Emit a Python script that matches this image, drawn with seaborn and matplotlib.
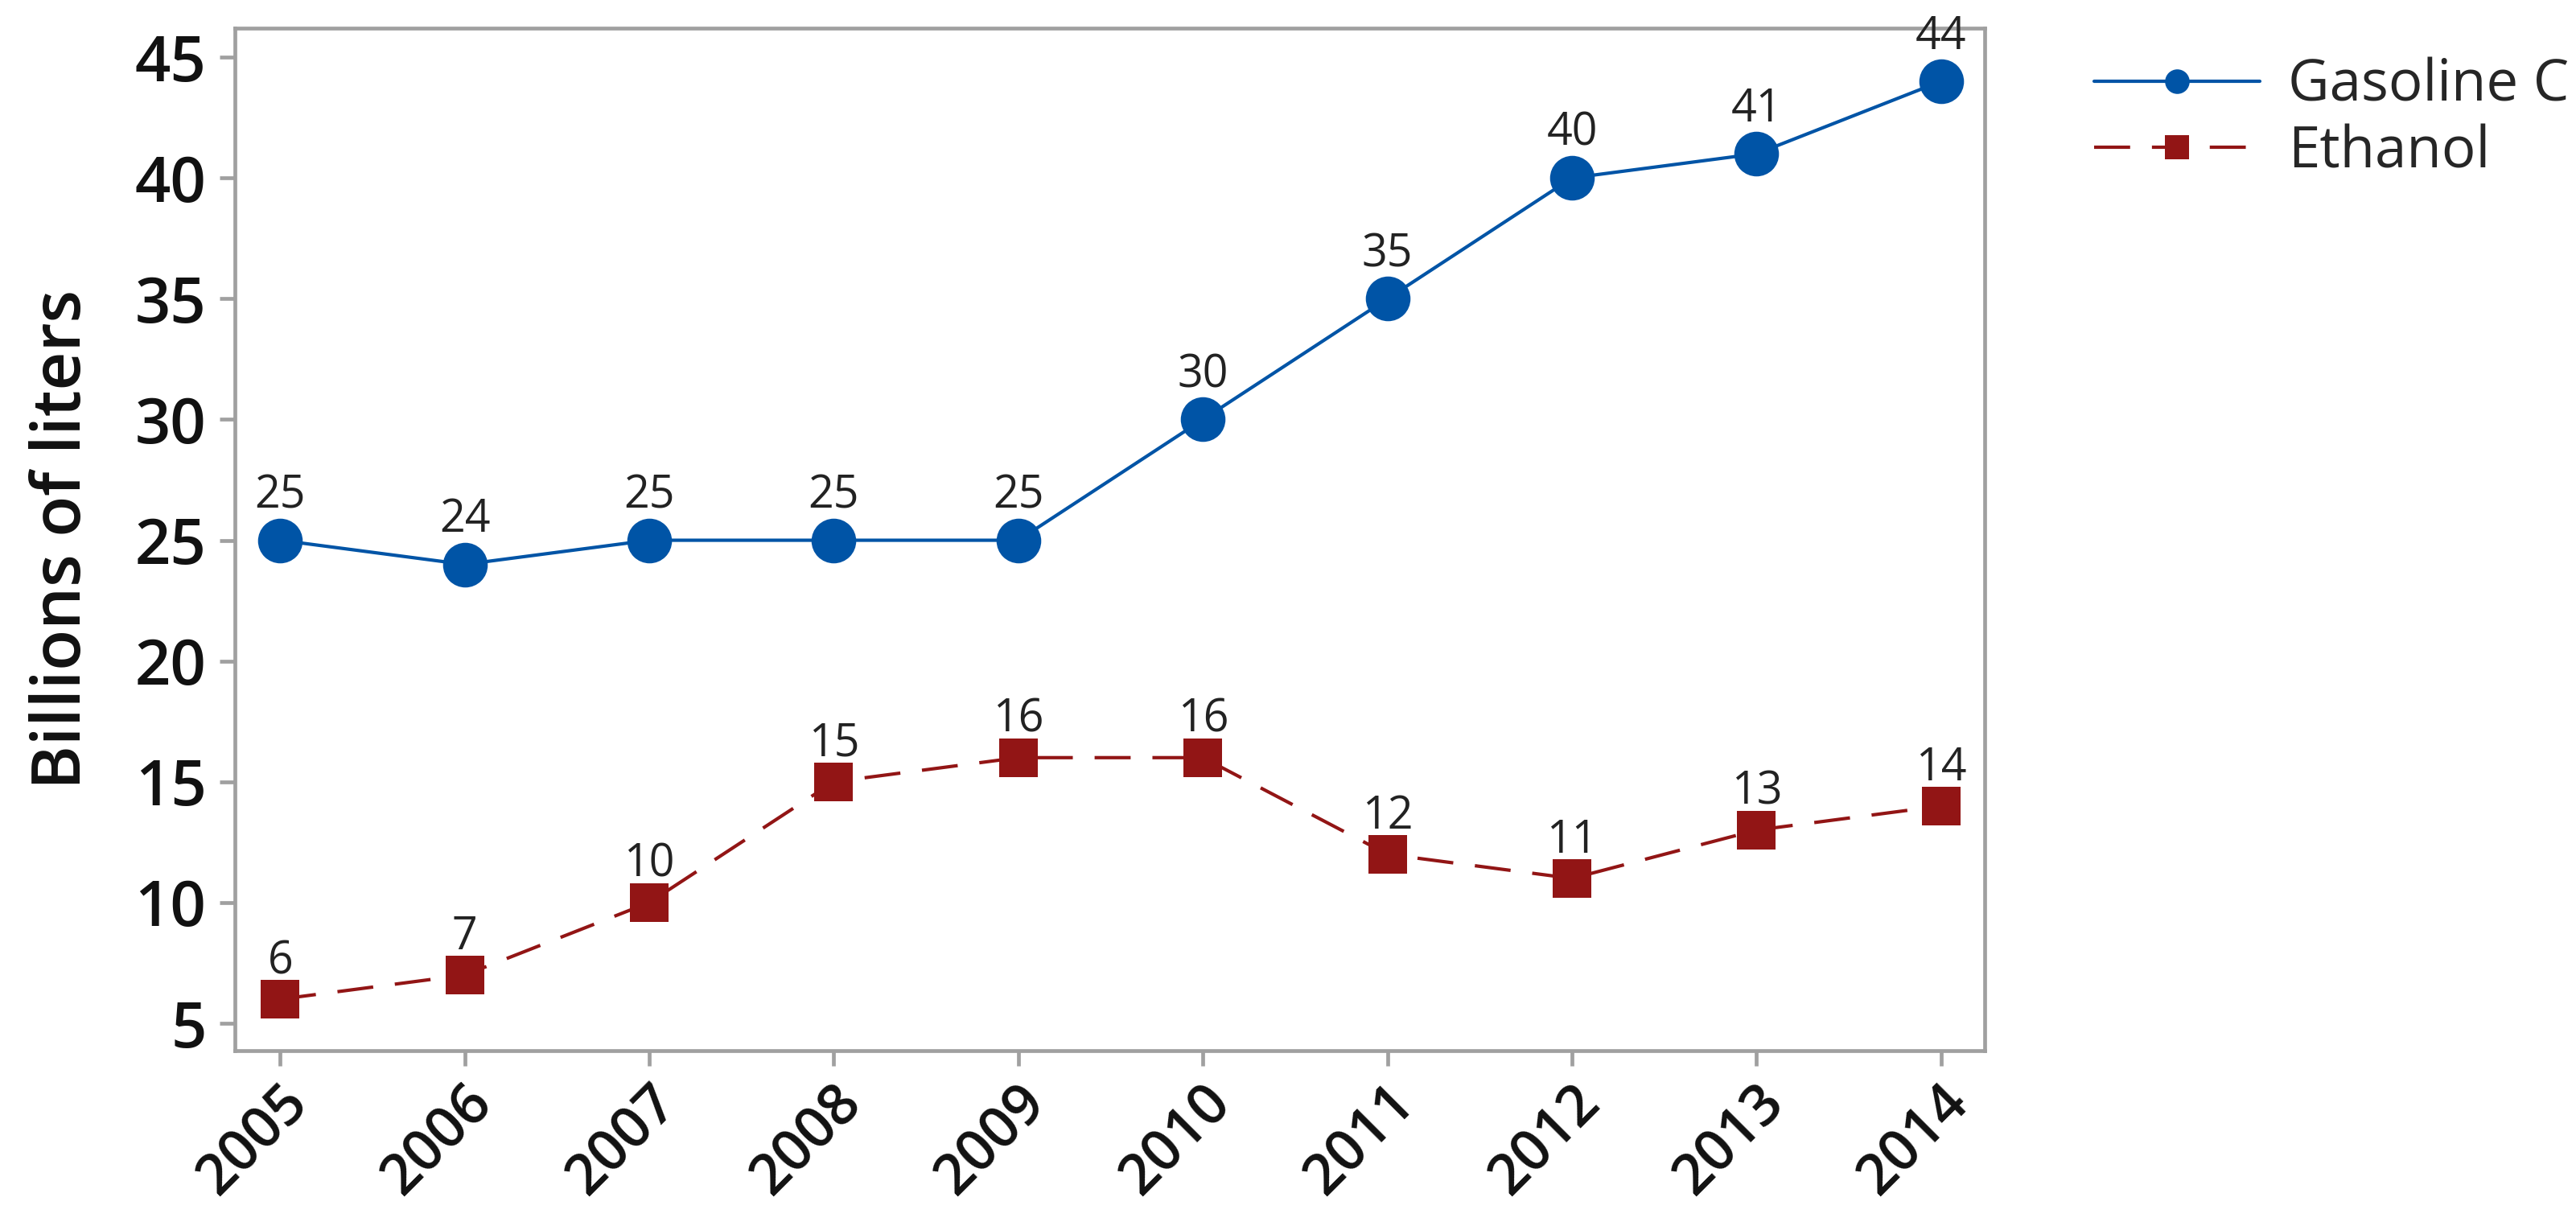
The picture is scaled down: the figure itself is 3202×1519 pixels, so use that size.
import matplotlib
matplotlib.use("Agg")
import matplotlib.pyplot as plt
import seaborn as sns
import pandas as pd
from matplotlib.lines import Line2D

years = ["2005", "2006", "2007", "2008", "2009", "2010", "2011", "2012", "2013", "2014"]
gasoline = [25, 24, 25, 25, 25, 30, 35, 40, 41, 44]
ethanol = [6, 7, 10, 15, 16, 16, 12, 11, 13, 14]
yticks = [5, 10, 15, 20, 25, 30, 35, 40, 45]

sns.set_theme(style="white")
plt.rcParams['font.family'] = ['Open Sans', 'DejaVu Sans']

blue = "#0054A6"
red = "#921515"
grey = "#a0a0a0"

df = pd.DataFrame({"x": list(range(len(years))), "gas": gasoline, "eth": ethanol})

fig = plt.figure(figsize=(16.01, 7.595), dpi=200)
ax = fig.add_axes([292/3202, 1 - 1306/1519, (2467-292)/3202, (1306-35)/1519])

sns.lineplot(data=df, x="x", y="gas", ax=ax, color=blue, lw=1.5, marker="o",
             markersize=20, markeredgewidth=0, markerfacecolor=blue)
sns.lineplot(data=df, x="x", y="eth", ax=ax, color=red, lw=1.5, marker="s",
             markersize=17, markeredgewidth=0, markerfacecolor=red,
             linestyle=(0, (10.75, 6.5)))

for i, v in enumerate(gasoline):
    ax.annotate(str(v), (i, v), xytext=(0, 14.5), textcoords="offset points",
                ha="center", va="baseline", fontsize=20, color="#222222")
for i, v in enumerate(ethanol):
    ax.annotate(str(v), (i, v), xytext=(0, 11.5), textcoords="offset points",
                ha="center", va="baseline", fontsize=20, color="#222222")

ax.set_xlim(-0.245, 9.236)
ax.set_ylim(3.87, 46.2)
ax.set_xticks(range(len(years)))
ax.set_xticklabels(years, rotation=45, ha="right", rotation_mode="anchor",
                   fontweight="semibold")
ax.set_yticks(yticks)
ax.set_yticklabels([str(t) for t in yticks], fontweight="semibold")
ax.set_xlabel("")
ax.set_ylabel("Billions of liters", fontsize=30, color="#111111", fontweight="semibold")
ax.yaxis.set_label_coords(-0.079, 0.5)

for s in ax.spines.values():
    s.set_color(grey)
    s.set_linewidth(1.7)
    s.set_visible(True)
ax.tick_params(axis="both", which="major", direction="out", length=6.8, width=1.7,
               color=grey, labelcolor="#111111", pad=6, bottom=True, left=True)
ax.tick_params(axis="y", labelsize=28)
ax.tick_params(axis="x", labelsize=25.5, pad=4)
ax.grid(False)

handles = [
    Line2D([], [], color=blue, lw=1.5, marker="o", markersize=11, markeredgewidth=0),
    Line2D([], [], color=red, lw=1.5, marker="s", markersize=11, markeredgewidth=0,
           linestyle=(0, (10.75, 6.5))),
]
fig.legend(handles, ["Gasoline C", "Ethanol"], loc="upper left",
           bbox_to_anchor=(2568/3202, 1 - 36/1519), frameon=False, fontsize=25.5,
           handlelength=2.9, handletextpad=0.5, labelspacing=0.15, borderpad=0)

fig.savefig("out.png", dpi=200, facecolor="white")
